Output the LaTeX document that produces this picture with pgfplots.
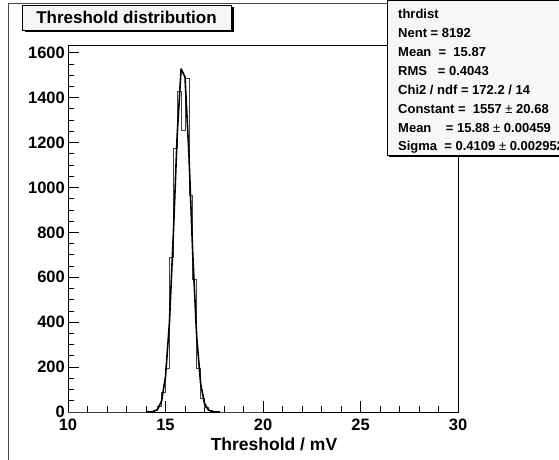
\documentclass[border=0pt]{standalone}
\usepackage{fontspec}
\setmainfont{Liberation Sans}
\usepackage{pgfplots}
\pgfplotsset{compat=1.18}
\begin{document}
\begin{tikzpicture}[x=1pt,y=1pt]
\path[use as bounding box] (0,0) rectangle (559,459);
\fill[white] (0,0) rectangle (559,459);
\draw[black!70, line width=0.8pt] (8.5,-5) -- (8.5,456) -- (565,456);
\begin{axis}[
  at={(68pt,47pt)}, anchor=south west,
  scale only axis, width=390pt, height=366pt,
  xmin=10, xmax=30, ymin=0, ymax=1630,
  xtick={10,15,...,30}, ytick={0,200,...,1600},
  minor x tick num=4, minor y tick num=3,
  xtick pos=left, ytick pos=left,
  tick align=inside,
  major tick length=11pt, minor tick length=6pt,
  axis line style={line width=1pt},
  every tick/.style={black, line width=0.8pt},
  ticklabel style={font=\fontsize{16.5}{16.5}\selectfont\bfseries},
  xticklabel style={inner sep=1pt, yshift=-5.5pt},
  yticklabel style={inner sep=1pt, xshift=-2pt},
  /pgf/number format/assume math mode=true,
  /pgf/number format/1000 sep={},
  xlabel={Threshold / mV},
  every axis x label/.append style={at={(axis description cs:0.5,0)}, anchor=center, xshift=11pt, yshift=-32pt, font=\fontsize{17.5}{17.5}\selectfont\bfseries},
]
\addplot[const plot, black!75, line width=0.7pt] coordinates {
(10,0) (14.2,2) (14.4,6) (14.6,24) (14.8,89) (15.0,196) (15.2,689) (15.4,1173) (15.6,1429) (15.8,1256) (16.0,1484) (16.2,967) (16.4,592) (16.6,195) (16.8,60) (17.0,20) (17.2,6) (17.4,2) (17.6,0) (20,0)};
\addplot[black, line width=1.6pt, line join=round] coordinates {
(14.0,0.04) (14.2,0.37) (14.4,2.4) (14.6,12.2) (14.8,49.3) (15.0,157.2) (15.2,396.0) (15.4,787.1) (15.6,1234.4) (15.8,1527.8) (16.0,1492.1) (16.2,1149.7) (16.4,699.1) (16.6,335.4) (16.8,127.0) (17.0,37.9) (17.2,8.9) (17.4,1.66) (17.6,0.24) (17.8,0.03)};
\end{axis}
% title box
\fill[black] (24.5,426.5) rectangle (233.5,451.5);
\draw[fill=gray!8, line width=0.8pt] (22,429) rectangle (231,454);
\node[font=\fontsize{17}{17}\selectfont\bfseries] at (126.5,441.5) {Threshold distribution};
% stats box
\fill[black] (389,302) rectangle (570,457);
\draw[fill=gray!6, line width=0.8pt] (387,304) rectangle (568,459);
\begin{scope}[every node/.style={anchor=west, inner sep=0pt, font=\fontsize{13}{13}\selectfont\bfseries}]
\node at (398,445) {thrdist};
\node at (398,426) {Nent = 8192};
\node at (398,407) {Mean\ \ =\ \ 15.87};
\node at (398,388) {RMS\ \ \ = 0.4043};
\node at (398,369) {Chi2 / ndf = 172.2 / 14};
\node at (398,350) {Constant =\ \ 1557 {\mdseries ±} 20.68};
\node at (398,331) {Mean\ \ \ \ = 15.88 {\mdseries ±} 0.00459};
\node at (398,312) {Sigma\ \ = 0.4109 {\mdseries ±} 0.002952};
\end{scope}
\end{tikzpicture}
\end{document}
